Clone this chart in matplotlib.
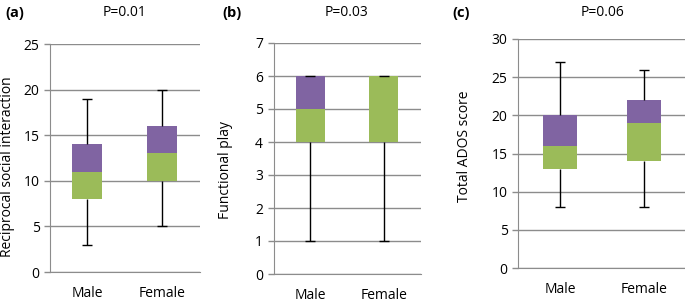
import matplotlib.pyplot as plt

plt.rcParams['font.family'] = ['Open Sans', 'DejaVu Sans']

groups = ['Male', 'Female']

# (a) reciprocal social interaction
a_min = [3, 5]
a_q1 = [8, 10]
a_med = [11, 13]
a_q3 = [14, 16]
a_max = [19, 20]

# (b) functional play
b_min = [1, 1]
b_q1 = [4, 4]
b_med = [5, 6]
b_q3 = [6, 6]
b_max = [6, 6]

# (c) total ADOS score
c_min = [8, 8]
c_q1 = [13, 14]
c_med = [16, 19]
c_q3 = [20, 22]
c_max = [27, 26]

green = '#9BBB59'
purple = '#8064A2'
grid_col = '#8C8C8C'
fs = 10

fig = plt.figure(figsize=(6.85, 3.04), dpi=100)


def panel(rect, mins, q1, med, q3, maxs, ymax, ylabel, label_xy):
    ax = fig.add_axes(rect)
    x = list(range(len(groups)))
    ax.set_axisbelow(True)
    ax.yaxis.grid(True, color=grid_col, linewidth=1)
    ax.bar(x, [m - q for m, q in zip(med, q1)], width=0.4, bottom=q1, color=green, zorder=2)
    ax.bar(x, [t - m for t, m in zip(q3, med)], width=0.4, bottom=med, color=purple, zorder=2)
    # whiskers + caps
    ax.vlines(x, mins, q1, color='black', linewidth=1, zorder=3)
    ax.vlines(x, q3, maxs, color='black', linewidth=1, zorder=3)
    ax.plot(x, mins, '_', color='black', markersize=7, markeredgewidth=1, zorder=3)
    ax.plot(x, maxs, '_', color='black', markersize=7, markeredgewidth=1, zorder=3)
    ax.set_xlim(-0.5, len(groups) - 0.5)
    ax.set_ylim(0, ymax)
    ax.set_xticks(x)
    ax.set_xticklabels(groups, fontsize=fs)
    ax.tick_params(axis='x', length=0, pad=10)
    ax.tick_params(axis='y', length=4.5, color=grid_col, width=1, pad=3, labelsize=fs)
    for s in ['top', 'right']:
        ax.spines[s].set_visible(False)
    ax.spines['left'].set_color(grid_col)
    ax.spines['bottom'].set_color(grid_col)
    ax.set_ylabel(ylabel, fontsize=fs)
    ax.yaxis.set_label_coords(*label_xy)
    return ax


panel([50 / 685, 1 - 272 / 304, 150 / 685, 228 / 304], a_min, a_q1, a_med, a_q3, a_max,
      25, 'Reciprocal social interaction', (-0.233, 0.463))
panel([273.5 / 685, 1 - 274 / 304, 147 / 685, 231 / 304], b_min, b_q1, b_med, b_q3, b_max,
      7, 'Functional play', (-0.276, 0.45))
panel([518 / 685, 1 - 268 / 304, 168 / 685, 229 / 304], c_min, c_q1, c_med, c_q3, c_max,
      30, 'Total ADOS score', (-0.274, 0.53))

for lx, px, lab, p in [(5, 125, '(a)', 'P=0.01'), (222, 347, '(b)', 'P=0.03'), (452, 602, '(c)', 'P=0.06')]:
    fig.text(lx / 685, 1 - 13 / 304, lab, fontsize=10.5, fontweight='bold', va='center', ha='left')
    fig.text(px / 685, 1 - 13 / 304, p, fontsize=fs, va='center', ha='center')

fig.savefig('out.png', dpi=100)
